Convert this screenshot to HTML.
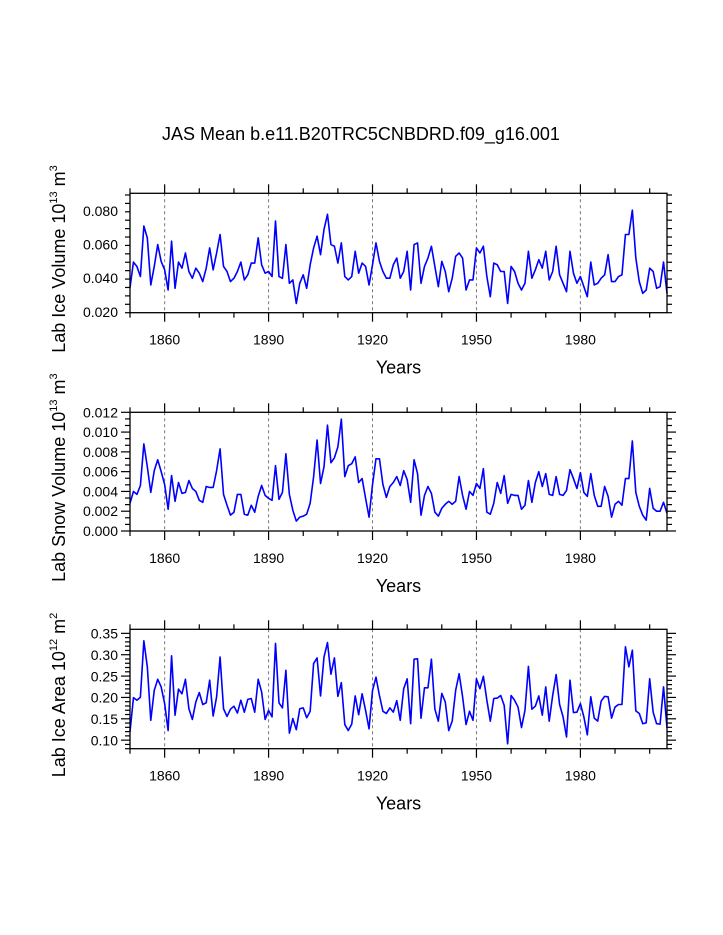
<!DOCTYPE html>
<html><head><meta charset="utf-8"><style>
html,body{margin:0;padding:0;background:#fff;}
svg{display:block;font-family:"Liberation Sans",Arial,sans-serif;}
</style></head><body>
<svg id="c" width="723" height="935" viewBox="0 0 723 935" xmlns="http://www.w3.org/2000/svg">
<text x="361" y="140" font-size="18" text-anchor="middle">JAS Mean b.e11.B20TRC5CNBDRD.f09_g16.001</text>
</svg>
<script>
const years = []; for (let y = 1850; y <= 2005; y++) years.push(y);
const xTicks = [1860, 1890, 1920, 1950, 1980];
const iceVolume = [0.0345,0.0496,0.047,0.041,0.071,0.064,0.036,0.047,0.060,0.050,0.045,0.033,0.062,0.034,0.0496,0.046,0.055,0.044,0.040,0.046,0.043,0.038,0.046,0.058,0.045,0.055,0.066,0.047,0.044,0.038,0.040,0.044,0.0496,0.039,0.042,0.049,0.049,0.064,0.048,0.043,0.044,0.041,0.074,0.041,0.040,0.060,0.037,0.039,0.025,0.037,0.042,0.034,0.048,0.058,0.065,0.054,0.069,0.078,0.060,0.059,0.049,0.061,0.041,0.039,0.041,0.056,0.043,0.049,0.047,0.036,0.048,0.061,0.050,0.044,0.040,0.040,0.048,0.052,0.040,0.044,0.056,0.033,0.060,0.061,0.037,0.047,0.052,0.059,0.047,0.035,0.050,0.044,0.032,0.040,0.053,0.055,0.052,0.033,0.039,0.039,0.058,0.055,0.059,0.041,0.029,0.049,0.048,0.044,0.044,0.025,0.047,0.044,0.037,0.033,0.037,0.056,0.040,0.045,0.051,0.046,0.056,0.039,0.044,0.059,0.042,0.037,0.032,0.056,0.043,0.037,0.041,0.035,0.029,0.0496,0.036,0.037,0.040,0.042,0.054,0.038,0.038,0.041,0.042,0.066,0.066,0.0805,0.052,0.038,0.031,0.033,0.046,0.044,0.034,0.035,0.0496,0.031];
const snowVolume = [0.0028,0.0040,0.0037,0.0046,0.0088,0.0065,0.0039,0.0061,0.0072,0.0060,0.0047,0.0022,0.0056,0.0030,0.0049,0.0038,0.0039,0.0051,0.0043,0.0040,0.0031,0.0029,0.0045,0.0044,0.0044,0.0061,0.0083,0.0037,0.0026,0.0016,0.0019,0.0037,0.0037,0.0017,0.0016,0.0026,0.0019,0.0035,0.0046,0.0036,0.0033,0.0031,0.0066,0.0032,0.0039,0.0078,0.0037,0.0021,0.0010,0.0014,0.0015,0.0017,0.0028,0.0055,0.0092,0.0048,0.0065,0.0107,0.0069,0.0074,0.0085,0.0113,0.0055,0.0066,0.0068,0.0075,0.0049,0.0053,0.0033,0.0014,0.0047,0.0073,0.0073,0.0047,0.0034,0.0045,0.0049,0.0055,0.0046,0.0061,0.0052,0.0029,0.0072,0.0058,0.0016,0.0036,0.0045,0.0038,0.0019,0.0015,0.0023,0.0027,0.0030,0.0027,0.0030,0.0055,0.0036,0.0022,0.0040,0.0036,0.0048,0.0043,0.0063,0.0019,0.0017,0.0028,0.0049,0.0038,0.0056,0.0028,0.0037,0.0036,0.0036,0.0022,0.0026,0.0051,0.0029,0.0049,0.0060,0.0045,0.0058,0.0037,0.0036,0.0055,0.0037,0.0036,0.0041,0.0062,0.0053,0.0043,0.0059,0.0039,0.0035,0.0058,0.0036,0.0025,0.0025,0.0045,0.0035,0.0014,0.0027,0.0030,0.0026,0.0053,0.0053,0.0091,0.0039,0.0025,0.0016,0.0011,0.0043,0.0023,0.0020,0.0020,0.0029,0.0018];
const iceArea = [0.120,0.200,0.194,0.201,0.333,0.272,0.147,0.217,0.243,0.225,0.186,0.123,0.298,0.159,0.220,0.209,0.243,0.174,0.149,0.190,0.212,0.184,0.188,0.241,0.157,0.202,0.295,0.174,0.156,0.173,0.180,0.164,0.194,0.166,0.196,0.198,0.166,0.243,0.213,0.149,0.170,0.155,0.327,0.188,0.176,0.264,0.117,0.151,0.125,0.174,0.176,0.153,0.168,0.280,0.293,0.204,0.295,0.329,0.255,0.293,0.203,0.235,0.137,0.123,0.138,0.204,0.160,0.209,0.170,0.127,0.217,0.248,0.205,0.168,0.163,0.176,0.166,0.193,0.147,0.221,0.244,0.139,0.290,0.291,0.152,0.223,0.223,0.290,0.173,0.145,0.210,0.190,0.123,0.145,0.217,0.256,0.202,0.137,0.168,0.147,0.244,0.221,0.250,0.194,0.145,0.198,0.199,0.205,0.182,0.092,0.205,0.194,0.178,0.130,0.170,0.273,0.173,0.180,0.204,0.159,0.225,0.145,0.205,0.254,0.184,0.155,0.108,0.241,0.165,0.166,0.186,0.155,0.113,0.202,0.152,0.145,0.192,0.203,0.202,0.152,0.178,0.184,0.184,0.319,0.272,0.311,0.169,0.163,0.139,0.141,0.244,0.166,0.139,0.138,0.225,0.129];
const p1Ticks = ["0.020","0.040","0.060","0.080"];
const p2Ticks = ["0.000","0.002","0.004","0.006","0.008","0.010","0.012"];
const p3Ticks = ["0.10","0.15","0.20","0.25","0.30","0.35"];

const NS = "http://www.w3.org/2000/svg";
const svg = document.getElementById('c');
function mk(tag, attrs, parent) { const e = document.createElementNS(NS, tag); for (const k in attrs) e.setAttribute(k, attrs[k]); (parent || svg).appendChild(e); return e; }
const X0 = 130, X1 = 667, YR0 = 1850, YR1 = 2005;
const xs = y => X0 + (y - YR0) / (YR1 - YR0) * (X1 - X0);

function panel(key, top, bot, vmin, vmax, values, ticks, minorStep, labelParts) {
  const g = mk('g', {});
  
  
  const ys = v => bot - (v - vmin) / (vmax - vmin) * (bot - top);
  // grid
  xTicks.forEach(t => {
    const l = mk('line', {x1: xs(t), x2: xs(t), y1: top, y2: bot, stroke: '#777', 'stroke-width': 1, 'stroke-dasharray': '3,3'}, g);
    
    
  });
  // x ticks
  for (let y = 1850; y <= 2005; y += 10) {
    const maj = xTicks.includes(y); const len = maj ? 9 : 5; const x = xs(y);
    mk('line', {x1: x, x2: x, y1: bot, y2: bot + len, stroke: '#000', 'stroke-width': 1.2}, g);
    mk('line', {x1: x, x2: x, y1: top, y2: top - len, stroke: '#000', 'stroke-width': 1.2}, g);
  }
  xTicks.forEach(t => {
    const tx = mk('text', {x: xs(t), y: bot + 32, 'font-size': 14, 'text-anchor': 'middle'}, g);
    tx.textContent = t;
    
    
  });
  // y ticks
  const tv = ticks.map(Number);
  for (let v = vmin; v <= vmax + 1e-9; v += minorStep) {
    const maj = tv.some(t => Math.abs(t - v) < minorStep / 10); const len = maj ? 9 : 5; const y = ys(v);
    mk('line', {x1: X0, x2: X0 - len, y1: y, y2: y, stroke: '#000', 'stroke-width': 1.2}, g);
    mk('line', {x1: X1, x2: X1 + len, y1: y, y2: y, stroke: '#000', 'stroke-width': 1.2}, g);
  }
  ticks.forEach(t => {
    const tx = mk('text', {x: X0 - 12, y: ys(Number(t)) + 5, 'font-size': 14, 'text-anchor': 'end'}, g);
    tx.textContent = t;
    
    
  });
  // series
  const pts = values.map((v, i) => xs(years[i]).toFixed(2) + ',' + ys(v).toFixed(2)).join(' ');
  const pl = mk('polyline', {points: pts, fill: 'none', stroke: '#0000ff', 'stroke-width': 1.6, 'stroke-linejoin': 'round'}, g);
  
  
  // frame
  const fr = mk('rect', {x: X0, y: top, width: X1 - X0, height: bot - top, fill: 'none', stroke: '#000', 'stroke-width': 1.3}, g);
  
  
  // x title
  const xt = mk('text', {x: (X0 + X1) / 2, y: bot + 61, 'font-size': 18, 'text-anchor': 'middle'}, g);
  xt.textContent = 'Years';
  
  
  // y title
  const cy = (top + bot) / 2 + 6;
  const yt = mk('text', {x: 0, y: 0, 'font-size': 18, 'text-anchor': 'middle', transform: 'translate(65,' + cy + ') rotate(-90)'}, g);
  
  
  const a = mk('tspan', {}, yt); a.textContent = labelParts[0] + ' 10';
  const b = mk('tspan', {'font-size': 11, dy: -8}, yt); b.textContent = labelParts[1];
  const c = mk('tspan', {dy: 8}, yt); c.textContent = ' m';
  const d = mk('tspan', {'font-size': 11, dy: -8}, yt); d.textContent = labelParts[2];
}
panel('ice-volume', 193.3, 312.7, 0.0195, 0.0905, iceVolume, p1Ticks, 0.005, ['Lab Ice Volume', '13', '3']);
panel('snow-volume', 412.3, 531, 0, 0.012, snowVolume, p2Ticks, 0.002 / 3, ['Lab Snow Volume', '13', '3']);
panel('ice-area', 629.3, 748.7, 0.0805, 0.36, iceArea, p3Ticks, 0.01, ['Lab Ice Area', '12', '2']);
</script>
</body></html>
